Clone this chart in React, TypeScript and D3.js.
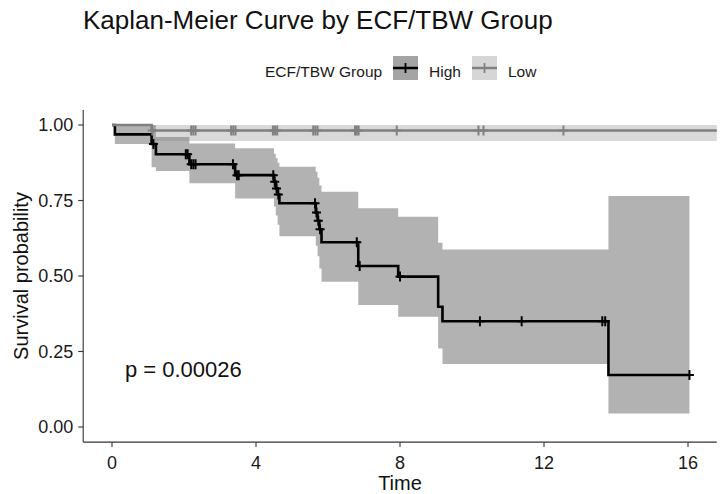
import * as d3 from "d3"

// Kaplan-Meier steps (time, survival, 95% band)
const highTimes = [0, 0.08, 1.1, 1.22, 2.15, 3.42, 4.5, 4.55, 4.6, 4.65, 5.66, 5.71, 5.76, 5.82, 6.84, 7.95, 9.06, 9.18, 13.79, 16.04]
const highSurv = [1, 0.969, 0.937, 0.903, 0.87, 0.834, 0.812, 0.79, 0.77, 0.741, 0.71, 0.683, 0.655, 0.612, 0.533, 0.498, 0.398, 0.35, 0.172, 0.172]
const highLower = [1, 0.937, 0.86, 0.848, 0.807, 0.757, 0.73, 0.7, 0.67, 0.632, 0.6, 0.565, 0.525, 0.481, 0.404, 0.365, 0.26, 0.209, 0.045, 0.045]
const highUpper = [1, 1, 1, 0.96, 0.939, 0.923, 0.905, 0.89, 0.875, 0.862, 0.845, 0.825, 0.8, 0.779, 0.724, 0.696, 0.61, 0.588, 0.765, 0.765]
const highCensor = [1.15, 2.05, 2.1, 2.2, 2.26, 2.32, 3.36, 3.47, 3.52, 4.48, 4.52, 4.57, 4.62, 5.64, 5.68, 5.73, 5.78, 6.8, 6.88, 8.0, 10.22, 11.38, 13.62, 13.7, 16.04]

const lowTimes = [0, 1.1, 18]
const lowSurv = [1, 0.982, 0.982]
const lowLower = [1, 0.947, 0.947]
const lowUpper = [1, 1, 1]
const lowCensor = [1.12, 2.2, 2.26, 2.32, 3.31, 3.37, 3.43, 4.47, 4.53, 4.59, 5.59, 5.65, 5.71, 6.75, 6.8, 6.85, 7.91, 10.18, 10.32, 12.54]

const groupNames = ["High", "Low"]
const xTicks = [0, 4, 8, 12, 16]
const yTicks = [0, 0.25, 0.5, 0.75, 1]
const pLabel = "p = 0.00026"
const pPos = [0.36, 0.19]

const W = 720
const H = 494
const font = "'Liberation Sans', Arial, sans-serif"

type Step = { t: number; s: number; lo: number; hi: number }

function steps(times: number[], surv: number[], lo: number[], hi: number[]): Step[] {
  return times.map((t, i) => ({ t, s: surv[i], lo: lo[i], hi: hi[i] }))
}

function levelAt(times: number[], surv: number[], t: number) {
  const i = d3.bisectRight(times, t) - 1
  return surv[Math.max(0, i)]
}

export default function App() {
  const x = d3.scaleLinear().domain([-0.8, 16.8]).range([83.2, 716.8])
  const y = d3.scaleLinear().domain([-0.05, 1.05]).range([442.1, 109.9])

  const line = d3
    .line<Step>()
    .x((d) => x(d.t))
    .y((d) => y(d.s))
    .curve(d3.curveStepAfter)

  const band = d3
    .area<Step>()
    .x((d) => x(d.t))
    .y0((d) => y(d.lo))
    .y1((d) => y(d.hi))
    .curve(d3.curveStepAfter)

  const high = steps(highTimes, highSurv, highLower, highUpper)
  const low = steps(lowTimes, lowSurv, lowLower, lowUpper)

  const series = [
    { name: groupNames[0], data: high, times: highTimes, surv: highSurv, censor: highCensor, color: "#000000", fill: "#000000", key: "#a4a4a4" },
    { name: groupNames[1], data: low, times: lowTimes, surv: lowSurv, censor: lowCensor, color: "#808080", fill: "#808080", key: "#d6d6d6" },
  ]

  const [x0, x1] = x.range()
  const [y0, y1] = y.range()

  return (
    <div style={{ position: "fixed", left: 0, top: 0 }}>
      <svg width={W} height={H} style={{ display: "block", background: "#fff", fontFamily: font }}>
        <defs>
          <clipPath id="panel">
            <rect x={x0} y={y1} width={x1 - x0} height={y0 - y1} />
          </clipPath>
        </defs>

        <text x={83} y={29} fontSize={26} fill="#111">
          Kaplan-Meier Curve by ECF/TBW Group
        </text>

        {/* legend */}
        <g fontSize={15.5} fill="#1a1a1a">
          <text x={265} y={76.5}>ECF/TBW Group</text>
          {series.map((s, i) => {
            const kx = i === 0 ? 393 : 472
            return (
              <g key={s.name}>
                <rect x={kx} y={56} width={25} height={24} fill={s.key} />
                <line x1={kx} x2={kx + 25} y1={68} y2={68} stroke={s.color} strokeWidth={2.5} />
                <line x1={kx + 12.5} x2={kx + 12.5} y1={63} y2={73} stroke={s.color} strokeWidth={1.8} />
                <text x={kx + 36} y={76.5}>{s.name}</text>
              </g>
            )
          })}
        </g>

        <g clipPath="url(#panel)">
          {series.map((s) => (
            <path key={s.name + "-band"} d={band(s.data) ?? ""} fill={s.fill} fillOpacity={0.3} />
          ))}
          {series.map((s) => (
            <path key={s.name + "-line"} d={line(s.data) ?? ""} fill="none" stroke={s.color} strokeWidth={2.6} />
          ))}
          {series.map((s) =>
            s.censor.map((t, i) => {
              const cx = x(t)
              const cy = y(levelAt(s.times, s.surv, t))
              return (
                <g key={s.name + "-c" + i} stroke={s.color} strokeWidth={2}>
                  <line x1={cx - 4.5} x2={cx + 4.5} y1={cy} y2={cy} />
                  <line x1={cx} x2={cx} y1={cy - 5} y2={cy + 5} />
                </g>
              )
            }),
          )}
        </g>

        <text x={x(pPos[0])} y={y(pPos[1])} dy="0.35em" fontSize={22} fill="#111">
          {pLabel}
        </text>

        {/* axes */}
        <line x1={x0} x2={x0} y1={y1} y2={y0} stroke="#333" strokeWidth={1.1} />
        <line x1={x0} x2={x1} y1={y0} y2={y0} stroke="#333" strokeWidth={1.1} />
        {yTicks.map((v) => (
          <g key={"y" + v}>
            <line x1={x0 - 5} x2={x0} y1={y(v)} y2={y(v)} stroke="#333" strokeWidth={1.1} />
            <text x={x0 - 10} y={y(v)} dy="0.36em" textAnchor="end" fontSize={18} fill="#1a1a1a">
              {d3.format(".2f")(v)}
            </text>
          </g>
        ))}
        {xTicks.map((v) => (
          <g key={"x" + v}>
            <line x1={x(v)} x2={x(v)} y1={y0} y2={y0 + 5} stroke="#333" strokeWidth={1.1} />
            <text x={x(v)} y={y0 + 27} textAnchor="middle" fontSize={18} fill="#1a1a1a">
              {v}
            </text>
          </g>
        ))}
        <text x={x((-0.8 + 16.8) / 2)} y={490} textAnchor="middle" fontSize={20} fill="#111">
          Time
        </text>
        <text
          transform={`translate(28,${(y0 + y1) / 2}) rotate(-90)`}
          textAnchor="middle"
          fontSize={20}
          fill="#111"
        >
          Survival probability
        </text>
      </svg>
    </div>
  )
}
